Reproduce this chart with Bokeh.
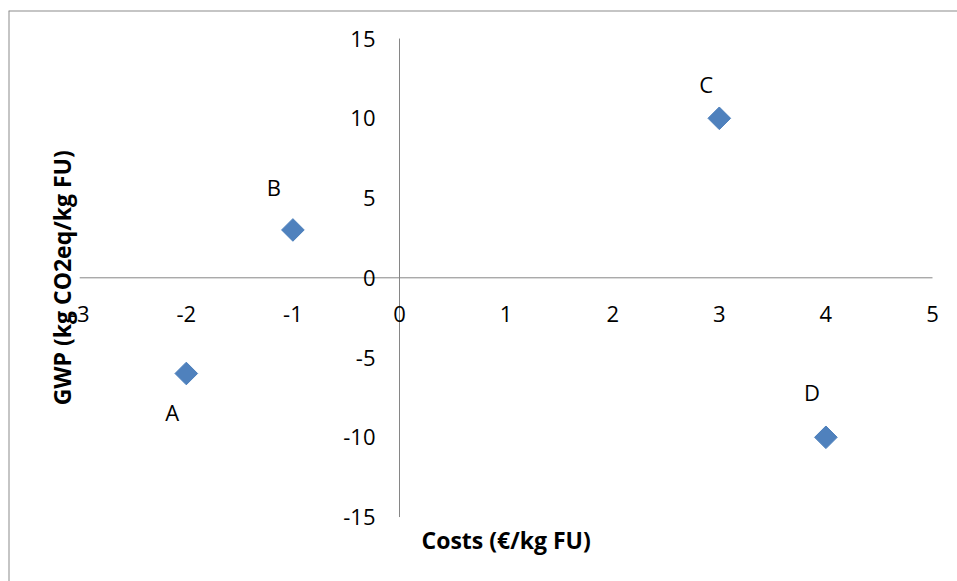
from bokeh.plotting import figure
from bokeh.models import ColumnDataSource, Range1d, Span
from bokeh.core.properties import value
from bokeh.embed import file_html
from bokeh.resources import INLINE
import math

# ---- data ----
names = ["A", "B", "C", "D"]
costs = [-2, -1, 3, 4]
gwp = [-6, 3, 10, -10]
x_ticks = [-3, -2, -1, 0, 1, 2, 3, 4, 5]
y_ticks = [-15, -10, -5, 0, 5, 10, 15]
x_title = "Costs (€/kg FU)"
y_title = "GWP (kg CO2eq/kg FU)"

# ---- style ----
label_dx = [-14, -19, -13, -14]
label_dy = [38, -43, -34, -45]
FONT = "Open Sans"
AXIS_COL = "#868686"
PT_COL = "#4F81BD"

W, H = 957, 581
BL, BT = 8, 10
fw, fh = W - BL, H - BT
x0_px, xu = 391.0, 106.6   # frame px of x=0, px per unit
y0_px, yu = 267.3, 15.95

xr = Range1d(-x0_px / xu, (fw - x0_px) / xu)
yr = Range1d(-(fh - y0_px) / yu, y0_px / yu)
p = figure(width=W, height=H, output_backend="svg", toolbar_location=None,
           x_range=xr, y_range=yr,
           min_border_left=BL, min_border_top=BT, min_border_right=0, min_border_bottom=0,
           x_axis_location=None, y_axis_location=None)
p.grid.visible = False
p.outline_line_color = None
p.border_fill_color = "white"
p.background_fill_color = "white"

# chart-area frame (left and top edges visible)
p.add_layout(Span(location=xr.start, dimension="height", line_color="#8c8c8c", line_width=2))
p.add_layout(Span(location=yr.end, dimension="width", line_color="#8c8c8c", line_width=2))

# axes crossing at zero
p.segment(x0=[min(x_ticks)], y0=[0], x1=[max(x_ticks)], y1=[0], line_color=AXIS_COL, line_width=1)
p.segment(x0=[0], y0=[min(y_ticks)], x1=[0], y1=[max(y_ticks)], line_color=AXIS_COL, line_width=1)

# tick labels
p.text(x=x_ticks, y=[0] * len(x_ticks), text=[str(t) for t in x_ticks],
       text_align="center", text_baseline="middle", y_offset=36,
       text_font=value(FONT), text_font_size="22px", text_color="#000000")
p.text(x=[0] * len(y_ticks), y=y_ticks, text=[str(t) for t in y_ticks],
       text_align="right", text_baseline="middle", x_offset=-24,
       text_font=value(FONT), text_font_size="22px", text_color="#000000")

# axis titles
p.text(x=[(min(x_ticks) + max(x_ticks)) / 2], y=[min(y_ticks)], text=[x_title],
       text_align="center", text_baseline="middle", y_offset=23,
       text_font=value(FONT), text_font_size="23px", text_font_style="bold")
p.text(x=[min(x_ticks)], y=[(min(y_ticks) + max(y_ticks)) / 2], text=[y_title],
       text_align="center", text_baseline="middle", x_offset=-18, angle=math.pi / 2,
       text_font=value(FONT), text_font_size="23px", text_font_style="bold")

# points
src = ColumnDataSource(dict(x=costs, y=gwp, name=names, dx=label_dx, dy=label_dy))
p.scatter(x="x", y="y", source=src, marker="square", size=16, angle=math.pi / 4,
          fill_color=PT_COL, line_color="#4A7EBB")
p.text(x="x", y="y", text="name", source=src, x_offset="dx", y_offset="dy",
       text_align="center", text_baseline="middle",
       text_font=value(FONT), text_font_size="22px", text_color="#000000")

open("out.html", "w").write(file_html(p, INLINE))
